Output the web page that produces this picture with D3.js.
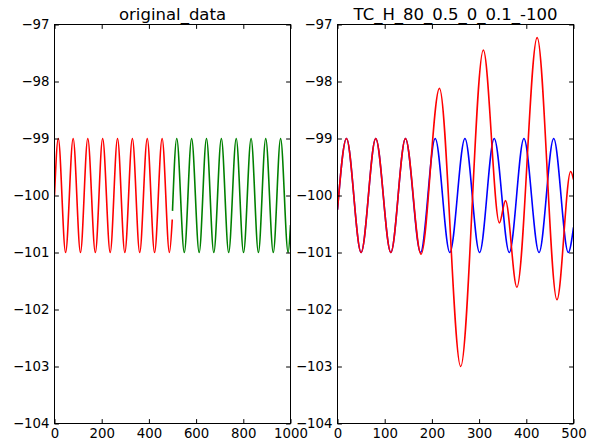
<!DOCTYPE html>
<html>
<head>
<meta charset="utf-8">
<script src="https://cdn.jsdelivr.net/npm/d3@7"></script>
<style>
  html, body { margin: 0; padding: 0; background: #fff; }
  svg { display: block; }
  text { font-family: "DejaVu Sans", sans-serif; fill: #000; }
</style>
</head>
<body>
<svg id="chart" width="597" height="447"></svg>
<script>
// ---- data (extrema and end points) ----
const leftTitle = "original_data";
const rightTitle = "TC_H_80_0.5_0_0.1_-100";

const leftXTicks = [0, 200, 400, 600, 800, 1000];
const rightXTicks = [0, 100, 200, 300, 400, 500];
const yTicks = [-97, -98, -99, -100, -101, -102, -103, -104];

const leftRedX = [0, 16, 47, 79, 110, 141, 173, 204, 236, 267, 298, 330, 361, 393, 424, 456, 487, 499];
const leftRedY = [-100, -99, -101, -99, -101, -99, -101, -99, -101, -99, -101, -99, -101, -99, -101, -99, -101, -100.42];

const leftGreenX = [500, 518, 550, 581, 613, 644, 675, 707, 738, 770, 801, 833, 864, 895, 927, 958, 990, 1000];
const leftGreenY = [-100.27, -99, -101, -99, -101, -99, -101, -99, -101, -99, -101, -99, -101, -99, -101, -99, -101, -100.52];

const rightBlueX = [0, 19, 50, 81, 113, 144, 176, 207, 238, 270, 301, 332, 364, 395, 427, 458, 489, 500];
const rightBlueY = [-100.25, -99, -101, -99, -101, -99, -101, -99, -101, -99, -101, -99, -101, -99, -101, -99, -101, -100.56];

const rightRedX = [0, 19, 50, 81, 113, 144, 177, 216, 261, 309, 343, 356, 380, 423, 465, 494, 500];
const rightRedY = [-100.25, -99, -101, -99, -101, -99, -101.03, -98.12, -103.0, -97.45, -100.48, -100.09, -101.61, -97.23, -101.83, -99.58, -99.72];

// ---- layout ----
const svg = d3.select("#chart");
const plotTop = 24.5, plotBottom = 423.5;
const tickLen = 4.4;
const fmt = d => (d < 0 ? "\u2212" + Math.abs(d) : String(d));

function panel(id, x0, x1, xDomain, xTicks, title, series) {
  const x = d3.scaleLinear().domain(xDomain).range([x0, x1]);
  const y = d3.scaleLinear().domain([-104, -97]).range([plotBottom, plotTop]);
  const g = svg.append("g");

  g.append("clipPath").attr("id", "clip" + id)
    .append("rect").attr("x", x0).attr("y", plotTop).attr("width", x1 - x0).attr("height", plotBottom - plotTop);

  const line = d3.line().x(d => x(d[0])).y(d => y(d[1])).curve(d3.curveMonotoneX);
  series.forEach(s => {
    g.append("path")
      .datum(d3.zip(s.x, s.y))
      .attr("clip-path", "url(#clip" + id + ")")
      .attr("fill", "none")
      .attr("stroke", s.color)
      .attr("stroke-width", 1.6)
      .attr("stroke-linejoin", "round")
      .attr("d", line);
  });

  const axB = g.append("g").attr("transform", `translate(0,${plotBottom})`)
    .call(d3.axisBottom(x).tickValues(xTicks).tickSize(-tickLen).tickSizeOuter(0).tickPadding(5).tickFormat(fmt));
  const axT = g.append("g").attr("transform", `translate(0,${plotTop})`)
    .call(d3.axisTop(x).tickValues(xTicks).tickSize(-tickLen).tickSizeOuter(0).tickFormat(""));
  const axL = g.append("g").attr("transform", `translate(${x0},0)`)
    .call(d3.axisLeft(y).tickValues(yTicks).tickSize(-tickLen).tickSizeOuter(0).tickPadding(5).tickFormat(fmt));
  const axR = g.append("g").attr("transform", `translate(${x1},0)`)
    .call(d3.axisRight(y).tickValues(yTicks).tickSize(-tickLen).tickSizeOuter(0).tickFormat(""));
  [axB, axT, axL, axR].forEach(a => {
    a.select(".domain").remove();
    a.selectAll("line").attr("stroke", "#000").attr("stroke-width", 1);
    a.selectAll("text").attr("font-family", "DejaVu Sans, sans-serif").attr("font-size", 13.3).attr("fill", "#000");
  });

  g.append("rect").attr("x", x0).attr("y", plotTop).attr("width", x1 - x0).attr("height", plotBottom - plotTop)
    .attr("fill", "none").attr("stroke", "#000").attr("stroke-width", 1);

  g.append("text").attr("x", (x0 + x1) / 2).attr("y", 19.5)
    .attr("text-anchor", "middle").attr("font-size", 16.5).text(title);
}

panel("L", 54.5, 290.5, [0, 1000], leftXTicks, leftTitle, [
  { x: leftRedX, y: leftRedY, color: "#ff0000" },
  { x: leftGreenX, y: leftGreenY, color: "#008000" }
]);
panel("R", 337.5, 573.5, [0, 500], rightXTicks, rightTitle, [
  { x: rightBlueX, y: rightBlueY, color: "#0000ff" },
  { x: rightRedX, y: rightRedY, color: "#ff0000" }
]);
</script>
</body>
</html>
